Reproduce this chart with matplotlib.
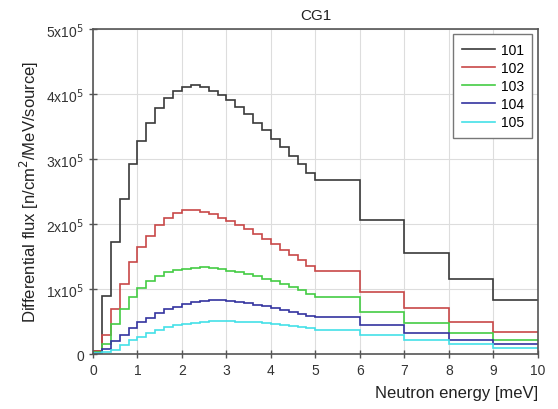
import numpy as np
import matplotlib
matplotlib.use('Agg')
import matplotlib.pyplot as plt
from matplotlib.ticker import FuncFormatter

plt.rcParams['font.family'] = ['Liberation Sans', 'DejaVu Sans']

# bin edges (meV): 0.2 wide up to 5, then 1 meV wide
edges = [0.0, 0.2, 0.4, 0.6, 0.8, 1.0, 1.2, 1.4, 1.6, 1.8, 2.0, 2.2, 2.4, 2.6, 2.8,
         3.0, 3.2, 3.4, 3.6, 3.8, 4.0, 4.2, 4.4, 4.6, 4.8, 5.0, 6.0, 7.0, 8.0, 9.0, 10.0]

labels = ['101', '102', '103', '104', '105']

# flux in units of 1e5 n/cm2/MeV/source
f101 = [0.05, 0.90, 1.72, 2.38, 2.92, 3.27, 3.55, 3.78, 3.94, 4.05, 4.10, 4.14, 4.10,
        4.05, 3.98, 3.90, 3.80, 3.69, 3.56, 3.44, 3.31, 3.18, 3.05, 2.92, 2.78,
        2.68, 2.06, 1.55, 1.15, 0.83]
f102 = [0.05, 0.29, 0.70, 1.08, 1.41, 1.64, 1.82, 1.98, 2.10, 2.17, 2.21, 2.22, 2.19,
        2.15, 2.10, 2.05, 1.99, 1.92, 1.85, 1.77, 1.69, 1.60, 1.52, 1.44, 1.36,
        1.28, 0.96, 0.71, 0.50, 0.34]
f103 = [0.03, 0.15, 0.46, 0.69, 0.87, 1.01, 1.13, 1.20, 1.26, 1.30, 1.31, 1.33, 1.34,
        1.33, 1.31, 1.28, 1.26, 1.23, 1.20, 1.16, 1.12, 1.08, 1.03, 0.99, 0.93,
        0.87, 0.65, 0.48, 0.33, 0.22]
f104 = [0.02, 0.08, 0.20, 0.29, 0.40, 0.49, 0.56, 0.63, 0.69, 0.73, 0.77, 0.80, 0.82,
        0.83, 0.83, 0.82, 0.80, 0.78, 0.76, 0.74, 0.71, 0.68, 0.65, 0.62, 0.59,
        0.57, 0.44, 0.32, 0.22, 0.15]
f105 = [0.01, 0.03, 0.07, 0.14, 0.21, 0.27, 0.32, 0.37, 0.41, 0.44, 0.46, 0.48, 0.50,
        0.51, 0.51, 0.51, 0.50, 0.50, 0.49, 0.48, 0.46, 0.45, 0.43, 0.42, 0.40,
        0.37, 0.30, 0.22, 0.16, 0.10]

colors = ['#3a3a3a', '#c84848', '#44cc44', '#3434a0', '#44e0e8']

fig = plt.figure(figsize=(5.58, 4.10), dpi=100)
ax = fig.add_axes([0.1667, 0.134, 0.797, 0.793])

for vals, lab, c in zip([f101, f102, f103, f104, f105], labels, colors):
    ax.stairs(np.array(vals) * 1e5, edges, baseline=None, color=c, lw=1.2, label=lab)

ax.set_xlim(0, 10)
ax.set_ylim(0, 5e5)
ax.set_xticks(range(0, 11))
ax.set_yticks(np.arange(0, 6) * 1e5)
ax.yaxis.set_major_formatter(FuncFormatter(
    lambda v, p: '0' if v == 0 else '%dx10$^{5}$' % round(v / 1e5)))
ax.grid(True, color='#dddddd', lw=0.8)
ax.set_axisbelow(True)
for s in ax.spines.values():
    s.set_color('#555555')
    s.set_linewidth(1.2)
ax.tick_params(direction='inout', length=6, width=1, color='#555555',
               labelsize=10, labelcolor='#333333')

ax.set_title('CG1', fontsize=11, color='#222222', pad=7)
ax.set_ylabel('Differential flux [n/cm$^2$/MeV/source]', fontsize=12, color='#222222',
              labelpad=4)
ax.set_xlabel('Neutron energy [meV]', fontsize=12, color='#222222', loc='right',
              labelpad=6)

leg = ax.legend(loc='upper right', fontsize=10, handlelength=2.4, fancybox=False,
                framealpha=1, edgecolor='#777777', borderaxespad=0.4, borderpad=0.6,
                labelspacing=0.3, handletextpad=0.4)
leg.get_frame().set_linewidth(1.0)

fig.savefig('out.png', dpi=100)
